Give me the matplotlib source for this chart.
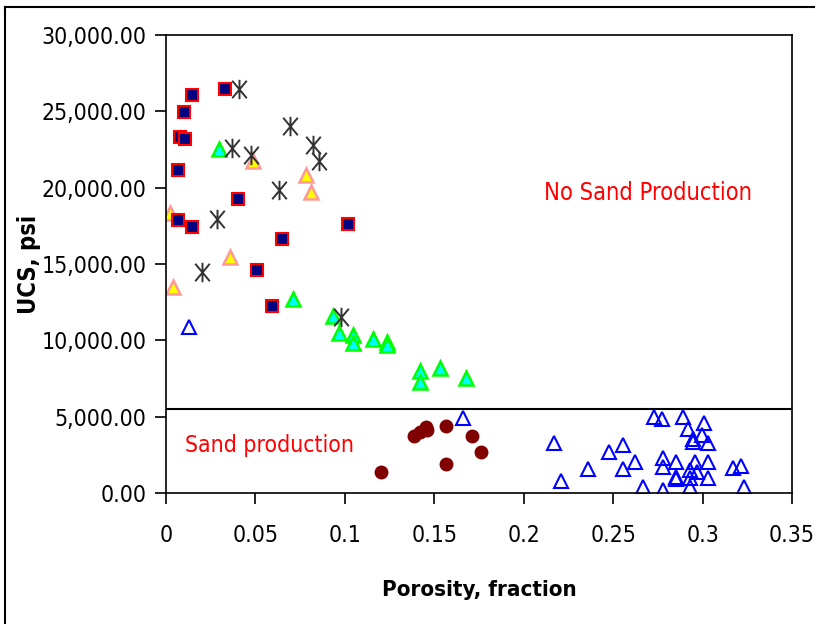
import numpy as np
import matplotlib
matplotlib.use("Agg")
import matplotlib.pyplot as plt
from matplotlib.path import Path
from matplotlib.lines import Line2D
from matplotlib.ticker import FuncFormatter

plt.rcParams['font.family'] = ['DejaVu Sans']
plt.rcParams['font.stretch'] = 'condensed'

# navy squares, red edge
sq_x = [0.033, 0.0145, 0.010, 0.0078, 0.0106, 0.0067, 0.040, 0.0067, 0.0145, 0.102, 0.065, 0.051, 0.059]
sq_y = [26460, 26070, 24950, 23320, 23190, 21160, 19260, 17880, 17420, 17620, 16640, 14600, 12250]

# grey asterisks
ast_x = [0.041, 0.037, 0.0475, 0.0693, 0.082, 0.0855, 0.063, 0.0285, 0.020, 0.098]
ast_y = [26460, 22600, 22140, 24050, 22790, 21750, 19850, 17950, 14500, 11530]

# yellow triangles
yel_x = [0.0022, 0.0486, 0.078, 0.081, 0.036, 0.0039]
yel_y = [18340, 21750, 20830, 19720, 15460, 13490]

# cyan triangles
cy_x = [0.0296, 0.071, 0.0934, 0.0967, 0.1045, 0.1045, 0.1157, 0.1236, 0.1236, 0.142, 0.142, 0.153, 0.168]
cy_y = [22530, 12710, 11590, 10480, 10350, 9830, 10090, 9890, 9690, 7990, 7270, 8190, 7530]

# maroon circles (sand production)
ci_x = [0.120, 0.1387, 0.142, 0.1454, 0.146, 0.1565, 0.1565, 0.171, 0.176]
ci_y = [1380, 3730, 4000, 4320, 4150, 4390, 1900, 3730, 2690]

# blue open triangles
bl_x = [0.0129, 0.166, 0.217, 0.221, 0.236, 0.2477, 0.2555, 0.2555, 0.2622, 0.2667,
        0.2728, 0.2773, 0.2779, 0.2779, 0.2779, 0.285, 0.285, 0.285, 0.289, 0.292,
        0.2946, 0.2946, 0.2997, 0.3008, 0.303, 0.293, 0.2957, 0.2969, 0.293, 0.293,
        0.303, 0.303, 0.317, 0.3215, 0.323]
bl_y = [10870, 4910, 3280, 790, 1570, 2690, 3140, 1570, 2030, 390,
        4980, 4850, 2290, 1700, 200, 2030, 1050, 900, 4980, 4190,
        3540, 3340, 3800, 4590, 3280, 1510, 2030, 1380, 980, 390,
        2030, 980, 1640, 1770, 390]

threshold = 5500

fig = plt.figure(figsize=(8.15, 6.24), dpi=100)
ax = fig.add_axes([166/815, 1-493/624, (792-166)/815, (493-35)/624])

star = Path([(0, -1), (0, 1), (-0.75, -0.9), (0.75, 0.9), (-0.75, 0.9), (0.75, -0.9)],
            [Path.MOVETO, Path.LINETO, Path.MOVETO, Path.LINETO, Path.MOVETO, Path.LINETO])

ax.plot(cy_x, cy_y, '^', ms=10, mfc='#00ffff', mec='#00ff00', mew=1.8, ls='none')
ax.plot(yel_x, yel_y, '^', ms=10, mfc='#ffff00', mec='#ff9999', mew=1.8, ls='none')
ax.plot(sq_x, sq_y, 's', ms=8, mfc='#000080', mec='#ff0000', mew=1.5, ls='none')
ax.plot(ast_x, ast_y, marker=star, ms=14, mfc='none', mec='#333333', mew=1.4, ls='none')
ax.plot(ci_x, ci_y, 'o', ms=9, mfc='#800000', mec='#800000', ls='none')
ax.plot(bl_x, bl_y, '^', ms=10, mfc='none', mec='#0000ff', mew=1.5, ls='none')

ax.axhline(threshold, color='black', lw=1.5)

ax.set_xlim(0, 0.35)
ax.set_ylim(0, 30000)
ax.set_xticks(np.arange(0, 0.351, 0.05))
ax.set_yticks(np.arange(0, 30001, 5000))
ax.xaxis.set_major_formatter(FuncFormatter(lambda v, p: '%g' % round(v, 2)))
ax.yaxis.set_major_formatter(FuncFormatter(lambda v, p: '{:,.2f}'.format(v)))
ax.tick_params(direction='out', length=8, width=1.2, labelsize=16.5, colors='black')
ax.tick_params(axis='x', pad=14)
ax.tick_params(axis='y', pad=6)
for s in ax.spines.values():
    s.set_linewidth(1.2)

ax.set_xlabel('Porosity, fraction', fontsize=16, fontweight='bold')
ax.set_ylabel('UCS, psi', fontsize=17, fontweight='bold')
ax.xaxis.set_label_coords(0.5, -0.19)
ax.yaxis.set_label_coords(-0.2, 0.5)

ax.text(0.2695, 19650, 'No Sand Production', color='#ff0000', fontsize=17, ha='center', va='center')
ax.text(0.058, 3140, 'Sand production', color='#ff0000', fontsize=16.5, ha='center', va='center')

# outer frame (left and top edges visible)
fig.add_artist(Line2D([5/815, 5/815], [0, 1-7/624], color='black', lw=1.5))
fig.add_artist(Line2D([5/815, 1], [1-7/624, 1-7/624], color='black', lw=1.5))

fig.savefig('out.png', dpi=100)
